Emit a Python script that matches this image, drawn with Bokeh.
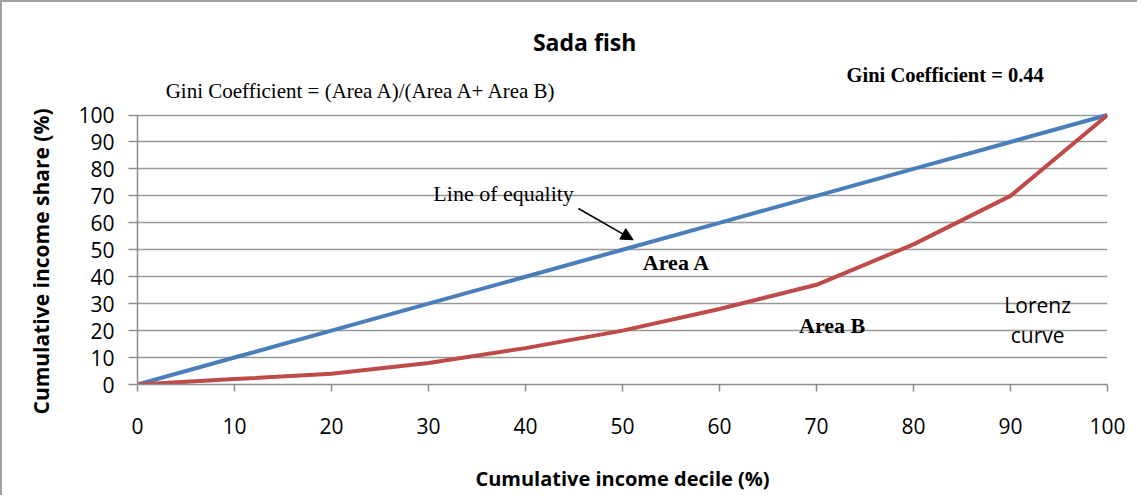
from bokeh.plotting import figure
from bokeh.models import Label, Arrow, NormalHead, Range1d, FixedTicker, Title
from bokeh.embed import file_html
from bokeh.resources import INLINE

deciles = [0, 10, 20, 30, 40, 50, 60, 70, 80, 90, 100]
equality = [0, 10, 20, 30, 40, 50, 60, 70, 80, 90, 100]
lorenz = [0, 2, 4, 8, 13.5, 20, 28, 37, 52, 70, 100]
ticks = [0, 10, 20, 30, 40, 50, 60, 70, 80, 90, 100]

# frame extends above 100 so that the title texts live inside it
p = figure(width=1137, height=495, output_backend="svg", toolbar_location=None,
           x_range=Range1d(0, 100), y_range=Range1d(0, 135.07), title=None,
           min_border_left=135, min_border_right=32, min_border_top=18, min_border_bottom=113)
p.styles = {"border-left": "2px solid #a0a0a0", "border-top": "2px solid #a0a0a0"}
p.outline_line_color = None
p.background_fill_color = "white"
p.border_fill_color = "white"

p.xgrid.grid_line_color = None
p.ygrid.grid_line_color = "#999999"
p.ygrid.grid_line_width = 1.5
p.xaxis.ticker = FixedTicker(ticks=ticks)
p.yaxis.ticker = FixedTicker(ticks=ticks)
p.yaxis.bounds = (0, 100)
p.xaxis.minor_tick_line_color = None
p.yaxis.minor_tick_line_color = None

for ax in (p.xaxis, p.yaxis):
    ax.axis_line_color = "#8c8c8c"
    ax.axis_line_width = 1.5
    ax.major_tick_line_color = "#8c8c8c"
    ax.major_tick_line_width = 1.5
    ax.major_tick_in = 0
    ax.major_label_text_font = "Open Sans"
    ax.major_label_text_font_size = "21px"
    ax.major_label_text_color = "black"
    ax.axis_label_text_font = "Open Sans"
    ax.axis_label_text_font_style = "bold"
    ax.axis_label_text_font_size = "20px"
    ax.axis_label_text_color = "black"

p.xaxis.major_tick_out = 7
p.yaxis.major_tick_out = 9
p.xaxis.major_label_standoff = 26
p.yaxis.major_label_standoff = 14
p.xaxis.axis_label = "Cumulative income decile (%)"
p.xaxis.axis_label_standoff = 28

# y-axis title, placed along the 0-100 part of the axis
p.add_layout(Title(text="Cumulative income share (%)", align="left", offset=-30, standoff=42,
                   text_font="Open Sans", text_font_size="21px", text_font_style="bold",
                   text_color="black"), "left")

p.line(deciles, equality, line_color="#4a7ebb", line_width=4)
p.line(deciles, lorenz, line_color="#be4b48", line_width=4)

def lab(x, y, text, font="Liberation Serif", size="16px", style="normal", align="left",
        base="middle"):
    p.add_layout(Label(x=x, y=y, text=text, text_font=font, text_font_size=size,
                       text_font_style=style, text_align=align, text_baseline=base,
                       text_color="black"))

lab(46.1, 127.2, "Sada fish", font="Open Sans", size="23px", style="bold", align="center")
lab(2.9, 109.0, "Gini Coefficient = (Area A)/(Area A+ Area B)", size="21px")
lab(73.1, 114.9, "Gini Coefficient = 0.44", size="20.5px", style="bold")
lab(30.5, 70.9, "Line of equality", size="22px")
lab(52.1, 45.2, "Area A", size="22px", style="bold")
lab(68.2, 22.0, "Area B", size="22px", style="bold")
lab(92.8, 29.6, "Lorenz", font="Open Sans", size="21px", align="center")
lab(92.8, 18.2, "curve", font="Open Sans", size="21px", align="center")

p.add_layout(Arrow(x_start=45.45, y_start=65.3, x_end=51.1, y_end=53.7,
                   line_color="black", line_width=1.5,
                   end=NormalHead(size=12, fill_color="black", line_color="black")))

open("out.html", "w").write(file_html(p, INLINE))
